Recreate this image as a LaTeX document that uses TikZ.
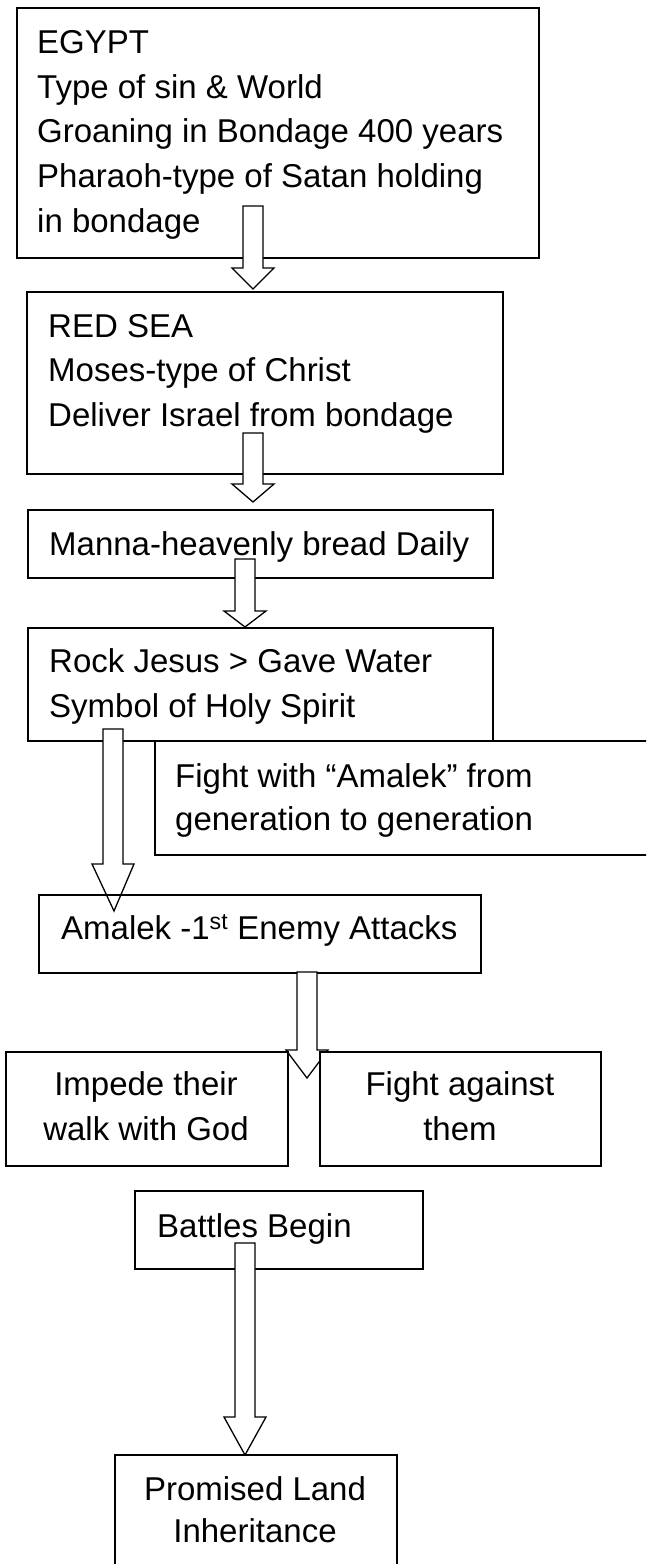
\documentclass[tikz,border=0pt]{standalone}
\usepackage{fontspec}
\setmainfont{Liberation Sans}
\usetikzlibrary{calc}
\tikzset{
  box/.style={draw=black, line width=1.6pt, inner sep=0pt, anchor=north west},
  wbox/.style={box, fill=white},
  txt/.style={inner sep=0pt, anchor=base west, font=\fontsize{33}{45}\selectfont},
  ctxt/.style={txt, anchor=base},
  barrow/.style={draw=black, fill=white, line width=1.3pt, line join=miter}
}
% block arrow from start coordinate #1 to tip coordinate #2, head length #3
\newcommand{\blockarr}[3]{%
  \draw[barrow] let \p1=(#1), \p2=(#2) in
    (\x1-10pt,\y1) -- (\x1+10pt,\y1) -- (\x1+10pt,\y2+#3) -- (\x1+21pt,\y2+#3)
    -- (\x2,\y2) -- (\x1-21pt,\y2+#3) -- (\x1-10pt,\y2+#3) -- cycle;}
\begin{document}
\begin{tikzpicture}[x=1pt,y=-1pt]
\useasboundingbox (0,0) rectangle (646,1564);
\clip (0,0) rectangle (646,1564);
\fill[white] (0,0) rectangle (646,1564);

% EGYPT
\node[wbox, minimum width=522pt, minimum height=250pt] (egypt) at (16,7) {};
\node[txt] (eg1) at (37,53) {EGYPT};
\node[txt] (eg2) at (37,98) {Type of sin \& World};
\node[txt] (eg3) at (37,142) {Groaning in Bondage 400 years};
\node[txt] (eg4) at (37,187) {Pharaoh-type of Satan holding};
\node[txt] (eg5) at (37,232) {in bondage};

% RED SEA
\node[wbox, minimum width=476pt, minimum height=182pt] (redsea) at (26,291) {};
\coordinate (a1s) at (253,206);
\coordinate (a1t) at (253,289);
\blockarr{a1s}{a1t}{21pt}
\node[txt] (rs1) at (48,337) {RED SEA};
\node[txt] (rs2) at (48,381) {Moses-type of Christ};
\node[txt] (rs3) at (48,426) {Deliver Israel from bondage};

% Manna
\node[wbox, minimum width=465pt, minimum height=68pt] (manna) at (27,509) {};
\coordinate (a2s) at (253,433);
\coordinate (a2t) at (253,502);
\blockarr{a2s}{a2t}{18pt}
\node[txt] (mn1) at (49,555) {Manna-heavenly bread Daily};

% Rock
\node[wbox, minimum width=465pt, minimum height=113pt] (rock) at (27,627) {};
\coordinate (a3s) at (245,559);
\coordinate (a3t) at (245,627);
\blockarr{a3s}{a3t}{16pt}
\node[txt] (rk1) at (49,672) {Rock Jesus > Gave Water};
\node[txt] (rk2) at (49,717) {Symbol of Holy Spirit};

% Fight with Amalek
\node[wbox, minimum width=520pt, minimum height=114pt] (fightgen) at (154,740) {};
\node[txt] (fg1) at (175,787) {Fight with “Amalek” from};
\node[txt] (fg2) at (175,830) {generation to generation};

% Amalek
\coordinate (a4s) at (113,729);
\coordinate (a4t) at (114,911);
\blockarr{a4s}{a4t}{47pt}
\node[box, minimum width=442pt, minimum height=78pt] (amalek) at (38,894) {};
\node[txt] (am1) at (61,939) {Amalek -1\textsuperscript{st} Enemy Attacks};

% Impede / Fight against
\coordinate (a5s) at (307,972);
\coordinate (a5t) at (307,1078);
\blockarr{a5s}{a5t}{28pt}
\node[wbox, minimum width=282pt, minimum height=114pt] (impede) at (5,1051) {};
\node[ctxt] (im1) at (146,1095) {Impede their};
\node[ctxt] (im2) at (146,1140) {walk with God};
\node[wbox, minimum width=281pt, minimum height=114pt] (against) at (319,1051) {};
\node[ctxt] (ag1) at (460,1095) {Fight against};
\node[ctxt] (ag2) at (460,1140) {them};

% Battles Begin
\node[wbox, minimum width=288pt, minimum height=78pt] (battles) at (134,1190) {};
\node[txt] (bb1) at (157,1237) {Battles Begin};
\coordinate (a6s) at (245,1243);
\coordinate (a6t) at (245,1455);
\blockarr{a6s}{a6t}{38pt}

% Promised Land
\node[box, minimum width=282pt, minimum height=160pt] (promised) at (114,1454) {};
\node[ctxt] (pl1) at (255,1500) {Promised Land};
\node[ctxt] (pl2) at (255,1542) {Inheritance};
\end{tikzpicture}
\end{document}
